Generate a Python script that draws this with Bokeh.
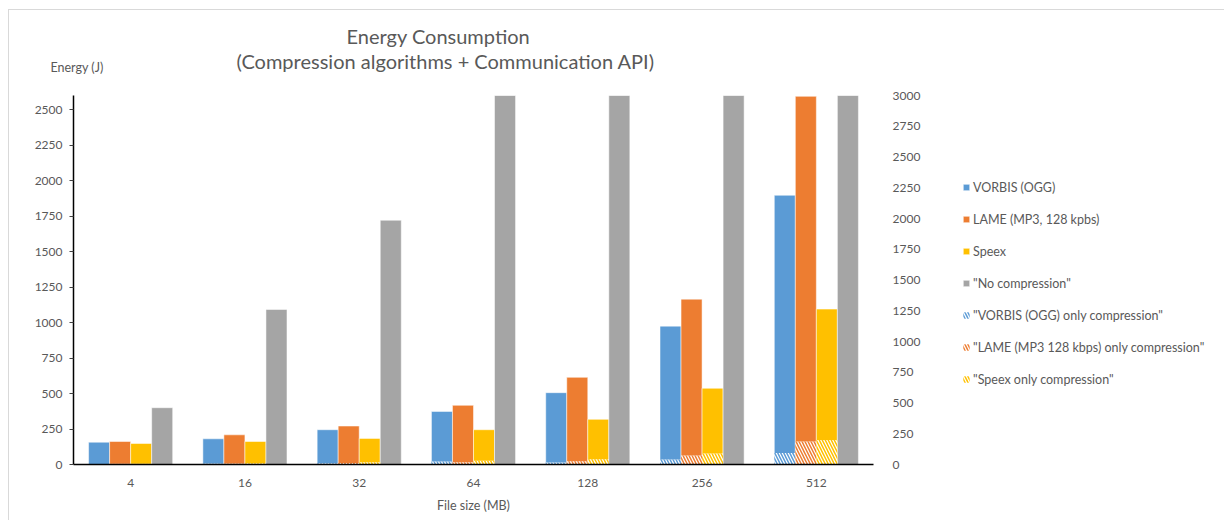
from bokeh.plotting import figure
from bokeh.layouts import row
from bokeh.models import (Range1d, LinearAxis, Legend, LegendItem, Title,
                          FactorRange, FixedTicker, ColumnDataSource)
from bokeh.transform import dodge
from bokeh.embed import file_html
from bokeh.resources import INLINE

# ---- data ----
sizes = ["4", "16", "32", "64", "128", "256", "512"]
vorbis = [157, 181, 245, 374, 506, 975, 1897]
lame = [162, 209, 271, 417, 614, 1165, 2594]
speex = [148, 162, 184, 245, 318, 537, 1095]
no_comp = [400, 1092, 1721, 3400, 6700, 13500, 27000]   # last four exceed the axis
vorbis_only = [5, 8, 11, 24, 16, 41, 93]
lame_only = [6, 9, 13, 19, 27, 73, 188]
speex_only = [6, 10, 19, 30, 43, 89, 200]
left_ticks = [0, 250, 500, 750, 1000, 1250, 1500, 1750, 2000, 2250, 2500]
right_ticks = [0, 250, 500, 750, 1000, 1250, 1500, 1750, 2000, 2250, 2500, 2750, 3000]

labels = ["VORBIS (OGG)", "LAME (MP3, 128 kpbs)", "Speex", "\"No compression\"",
          "\"VORBIS (OGG) only compression\"", "\"LAME (MP3 128 kbps) only compression\"",
          "\"Speex only compression\""]
title1 = "Energy Consumption"
title2 = "(Compression algorithms + Communication API)"
y_title = "Energy (J)"
x_title = "File size (MB)"

C_BLUE = "#5B9BD5"
C_ORANGE = "#ED7D31"
C_YELLOW = "#FFC000"
C_GRAY = "#A5A5A5"
TXT = "#595959"
FONT = "Lato"

src = ColumnDataSource(dict(size=sizes, vorbis=vorbis, lame=lame, speex=speex,
                            no_comp=no_comp, vorbis_only=vorbis_only,
                            lame_only=lame_only, speex_only=speex_only))

H = 520
MW = 930          # main chart width
LW = 1224 - MW    # legend strip width
p = figure(x_range=FactorRange(*sizes), y_range=Range1d(0, 2600),
           width=MW, height=H, output_backend="svg", toolbar_location=None,
           min_border_left=73, min_border_right=MW - 873, min_border_top=95,
           min_border_bottom=H - 464)
p.extra_y_ranges = {"right": Range1d(0, 3000)}
p.xgrid.visible = False
p.ygrid.visible = False
p.outline_line_color = None
p.border_fill_color = None
p.background_fill_color = None

bw = 0.184
offs = [-1.5 * bw, -0.5 * bw, 0.5 * bw, 1.5 * bw]
main_cols = ["vorbis", "lame", "speex", "no_comp"]
main_colors = [C_BLUE, C_ORANGE, C_YELLOW, C_GRAY]
comp_cols = ["vorbis_only", "lame_only", "speex_only"]
comp_colors = [C_BLUE, C_ORANGE, C_YELLOW]

solid_style = dict(line_color="white", line_alpha=0.5, line_width=1)
hatch_style = dict(fill_color="white", hatch_pattern="\\", hatch_scale=6,
                   hatch_weight=1.5, line_color=None)

for col, color, off in zip(main_cols, main_colors, offs):
    p.vbar(x=dodge("size", off, range=p.x_range), top=col, width=bw,
           source=src, fill_color=color, **solid_style)

for col, color, off in zip(comp_cols, comp_colors, offs[:3]):
    p.vbar(x=dodge("size", off, range=p.x_range), top=col, width=bw,
           source=src, y_range_name="right", hatch_color=color, **hatch_style)

# axes
xa = p.xaxis[0]
xa.axis_line_color = "black"
xa.axis_line_width = 1.5
xa.major_tick_line_color = None
xa.minor_tick_line_color = None
xa.major_label_text_color = TXT
xa.major_label_text_font = FONT
xa.major_label_text_font_size = "12px"
xa.major_label_standoff = 8
xa.axis_label = x_title
xa.axis_label_text_font = FONT
xa.axis_label_text_font_style = "normal"
xa.axis_label_text_font_size = "12.5px"
xa.axis_label_text_color = TXT
xa.axis_label_standoff = 8

ya = p.yaxis[0]
ya.ticker = FixedTicker(ticks=left_ticks)
ya.axis_line_color = "black"
ya.axis_line_width = 1.5
ya.major_tick_out = 4
ya.major_tick_in = 0
ya.major_tick_line_color = "#404040"
ya.minor_tick_line_color = None
ya.major_label_text_color = TXT
ya.major_label_text_font = FONT
ya.major_label_text_font_size = "12px"
ya.major_label_standoff = 7

ra = LinearAxis(y_range_name="right", ticker=FixedTicker(ticks=right_ticks),
                axis_line_color=None, major_tick_line_color=None,
                minor_tick_line_color=None, major_label_text_color=TXT,
                major_label_text_font=FONT, major_label_text_font_size="12px",
                major_label_standoff=13)
p.add_layout(ra, "right")

# titles stacked above the frame (first added = nearest the frame)
p.add_layout(Title(text=" ", text_font_size="12px", standoff=11), "above")
p.add_layout(Title(text=y_title, text_font=FONT, text_font_size="12.5px",
                   text_font_style="normal", text_color=TXT, align="left",
                   offset=-23, vertical_align="top", standoff=-17), "above")
p.add_layout(Title(text=title2, text_font=FONT, text_font_size="20px",
                   text_font_style="normal", text_color=TXT, align="left",
                   offset=163, vertical_align="bottom", standoff=-8), "above")
p.add_layout(Title(text=title1, text_font=FONT, text_font_size="20px",
                   text_font_style="normal", text_color=TXT, align="left",
                   offset=273, vertical_align="bottom", standoff=6), "above")

# legend strip: its own plot, with legend proxies styled like the bars
lg = figure(width=LW, height=H, x_range=Range1d(0, 1), y_range=Range1d(0, 1),
            output_backend="svg", toolbar_location=None,
            x_axis_location=None, y_axis_location=None, min_border=0)
lg.grid.visible = False
lg.outline_line_color = None
lg.border_fill_color = None
lg.background_fill_color = None
proxies = []
for color in main_colors:
    proxies.append(lg.vbar(x=[-5], top=[0], width=0.01, fill_color=color, **solid_style))
for color in comp_colors:
    proxies.append(lg.vbar(x=[-5], top=[0], width=0.01, hatch_color=color, **hatch_style))

items = [LegendItem(label=l, renderers=[r]) for l, r in zip(labels, proxies)]
leg = Legend(items=items, location=(32, 75), orientation="vertical",
             glyph_width=8, glyph_height=8, label_height=20, spacing=12,
             padding=0, margin=0, border_line_color=None,
             background_fill_alpha=0, label_text_font=FONT,
             label_text_font_size="12.5px", label_text_color=TXT,
             label_standoff=3)
lg.add_layout(leg, "center")

# faint chart-area border (top and left edges) drawn behind the transparent canvases
frame_css = {
    "background-color": "white",
    "background-image": "linear-gradient(#d9d9d9, #d9d9d9), linear-gradient(#d9d9d9, #d9d9d9)",
    "background-size": "1px 100%, 100% 1px",
    "background-position": "8px 9px, 8px 9px",
    "background-repeat": "no-repeat",
}
layout = row(p, lg, styles=frame_css)
open("out.html", "w").write(file_html(layout, INLINE))
